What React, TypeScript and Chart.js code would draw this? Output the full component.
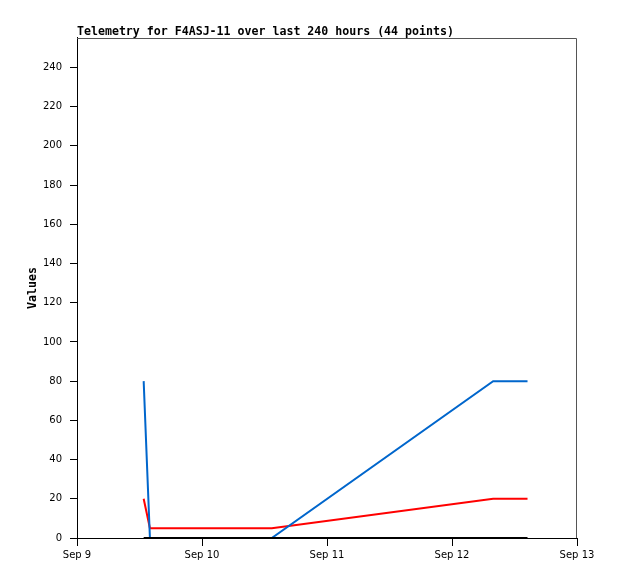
import React, { useEffect, useRef } from "react";
import { Chart, registerables } from "chart.js";

Chart.register(...registerables);

// hours since Sep 9 00:00
const blueHours = [12.8, 14.0, 37.4, 79.9, 86.5];
const blueValues = [80, 0, 0, 80, 80];
const redHours = [12.8, 14.0, 37.4, 79.9, 86.5];
const redValues = [20, 5, 5, 20, 20];
const blackHours = [12.8, 14.0, 37.4, 79.9, 86.5];
const blackValues = [0, 0, 0, 0, 0];
const dayLabels = ["Sep 9", "Sep 10", "Sep 11", "Sep 12", "Sep 13"];
const titleText = "Telemetry for F4ASJ-11 over last 240 hours (44 points)";

const toPts = (xs: number[], ys: number[]) => xs.map((x, i) => ({ x, y: ys[i] }));

const frame = {
  id: "frame",
  afterDraw(chart: any) {
    const { ctx, chartArea } = chart;
    const t = Math.round(chartArea.top) + 0.5;
    const r = Math.round(chartArea.right) - 0.5;
    ctx.save();
    ctx.strokeStyle = "#555555";
    ctx.lineWidth = 1;
    ctx.beginPath();
    ctx.moveTo(chartArea.left, t);
    ctx.lineTo(r, t);
    ctx.lineTo(r, chartArea.bottom);
    ctx.stroke();
    ctx.restore();
  },
};

export default function App() {
  const ref = useRef<HTMLCanvasElement>(null);
  useEffect(() => {
    if (!ref.current) return;
    const tickFont = { family: "DejaVu Sans", size: 10 };
    const chart = new Chart(ref.current, {
      type: "line",
      data: {
        datasets: [
          {
            data: toPts(blackHours, blackValues),
            borderColor: "#000000",
            borderWidth: 2,
            pointRadius: 0,
            order: 0,
          },
          {
            data: toPts(blueHours, blueValues),
            borderColor: "#0066cc",
            borderWidth: 2,
            pointRadius: 0,
            order: 1,
          },
          {
            data: toPts(redHours, redValues),
            borderColor: "#ff0000",
            borderWidth: 2,
            pointRadius: 0,
            order: 2,
          },
        ],
      },
      options: {
        responsive: false,
        animation: false,
        layout: { padding: { left: 0, right: 41, top: 0, bottom: 0 } },
        plugins: {
          legend: { display: false },
          tooltip: { enabled: false },
          title: {
            display: true,
            text: titleText,
            align: "start",
            fullSize: false,
            color: "#000000",
            font: { family: "DejaVu Sans Mono", size: 11.6, weight: "bold", lineHeight: 1.12 },
            padding: { top: 25, bottom: 0 },
          },
        },
        scales: {
          x: {
            type: "linear",
            min: 0,
            max: 96,
            afterFit: (s: any) => {
              s.height = 41;
            },
            ticks: {
              stepSize: 24,
              color: "#000000",
              font: tickFont,
              padding: 3,
              maxRotation: 0,
              callback: (v: any) => dayLabels[Math.round(Number(v) / 24)] ?? "",
            },
            grid: { drawOnChartArea: false, color: "#000000", tickLength: 8 },
            border: { color: "#000000" },
          },
          y: {
            type: "linear",
            min: 0,
            max: 255,
            afterFit: (s: any) => {
              s.width = 77;
            },
            afterBuildTicks: (s: any) => {
              s.ticks = s.ticks.filter((t: any) => t.value % 20 === 0);
            },
            ticks: {
              stepSize: 20,
              color: "#000000",
              font: tickFont,
              padding: 8,
            },
            grid: { drawOnChartArea: false, color: "#000000", tickLength: 7 },
            border: { color: "#000000" },
            title: {
              display: true,
              text: "Values",
              color: "#000000",
              font: { family: "DejaVu Sans Mono", size: 11.6, weight: "bold", lineHeight: 1.12 },
              padding: { top: 26, bottom: 0 },
            },
          },
        },
      },
      plugins: [frame],
    });
    return () => chart.destroy();
  }, []);
  return (
    <div style={{ position: "absolute", left: 0, top: 0, width: 618, height: 579, background: "#ffffff" }}>
      <canvas ref={ref} width={618} height={579} />
    </div>
  );
}
